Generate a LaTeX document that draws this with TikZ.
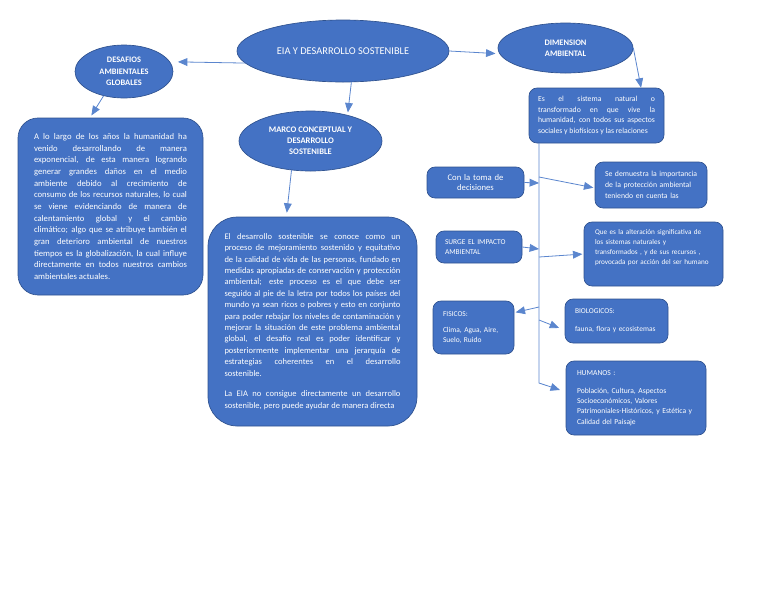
\documentclass[tikz,border=0pt]{standalone}
\usepackage{fontspec}
\setmainfont{Carlito}
\usetikzlibrary{arrows,shapes.geometric}
\hbadness=10000
\hyphenpenalty=10000

\definecolor{boxblue}{RGB}{68,114,196}
\definecolor{edgeblue}{RGB}{47,82,143}
\definecolor{linkblue}{RGB}{91,134,206}

\tikzset{
  oval/.style={ellipse, draw=edgeblue, line width=0.5pt, fill=boxblue, text=white, inner sep=0pt, align=center},
  card/.style={rectangle, draw=edgeblue, line width=0.5pt, fill=boxblue, text=white, inner sep=0pt, rounded corners=6pt},
  conn/.style={draw=linkblue, line width=0.6pt, -triangle 45},
}

\begin{document}
\begin{tikzpicture}[x=0.75pt,y=0.75pt,yscale=-1,xscale=1]
\useasboundingbox (0,0) rectangle (768,594);

%Shape: Ellipse [main]
\node (eia) at (343,51) [oval, minimum width=159pt, minimum height=46.5pt, font=\fontsize{7.8}{9}\selectfont] {EIA Y DESARROLLO SOSTENIBLE};
%Shape: Ellipse [desafios]
\node (desafios) at (124,71.5) [oval, minimum width=73.5pt, minimum height=39.75pt, font=\bfseries\fontsize{6.3}{8.6}\selectfont] {DESAFIOS\\AMBIENTALES\\GLOBALES};
%Shape: Ellipse [dimension]
\node (dim) at (565.5,48) [oval, minimum width=101.25pt, minimum height=37.5pt, font=\bfseries\fontsize{6.3}{8.3}\selectfont] {DIMENSION\\AMBIENTAL};
%Shape: Ellipse [marco]
\node (marco) at (310.5,141) [oval, minimum width=107.25pt, minimum height=45pt, font=\bfseries\fontsize{6.4}{8.3}\selectfont] {MARCO CONCEPTUAL Y\\DESARROLLO\\SOSTENIBLE};

%Rounded Rect [desafios text]
\node (globaltxt) at (110.5,206.5) [card, rounded corners=15pt, minimum width=138.75pt, minimum height=132.75pt, text width=114.75pt, align=justify, font=\fontsize{6.5}{8.75}\selectfont] {A lo largo de los años la humanidad ha\linebreak
venido desarrollando de manera\linebreak
exponencial, de esta manera logrando\linebreak
generar grandes daños en el medio\linebreak
ambiente debido al crecimiento de\linebreak
consumo de los recursos naturales, lo cual\linebreak
se viene evidenciando de manera de\linebreak
calentamiento global y el cambio\linebreak
climático; algo que se atribuye también el\linebreak
gran deterioro ambiental de nuestros\linebreak
tiempos es la globalización, la cual influye\linebreak
directamente en todos nuestros cambios\linebreak
ambientales actuales.};

%Rounded Rect [marco text]
\node (marcotxt) at (312.5,321.5) [card, rounded corners=22pt, minimum width=156.75pt, minimum height=156.75pt, text width=132pt, align=justify, font=\fontsize{6.4}{8.55}\selectfont] {El desarrollo sostenible se conoce como un\linebreak
proceso de mejoramiento sostenido y equitativo\linebreak
de la calidad de vida de las personas, fundado en\linebreak
medidas apropiadas de conservación y protección\linebreak
ambiental; este proceso es el que debe ser\linebreak
seguido al pie de la letra por todos los países del\linebreak
mundo ya sean ricos o pobres y esto en conjunto\linebreak
para poder rebajar los niveles de contaminación y\linebreak
mejorar la situación de este problema ambiental\linebreak
global, el desafío real es poder identificar y\linebreak
posteriormente implementar una jerarquía de\linebreak
estrategias coherentes en el desarrollo\linebreak
sostenible.\par\vspace{7pt}
La EIA no consigue directamente un desarrollo\linebreak
sostenible, pero puede ayudar de manera directa};

%Rounded Rect [right column]
\node (sistema) at (596.5,115.5) [card, minimum width=101.25pt, minimum height=41.25pt, text width=87.75pt, align=justify, font=\fontsize{5.8}{7.9}\selectfont] {\parfillskip=0pt Es el sistema natural o\linebreak
transformado en que vive la\linebreak
humanidad, con todos sus aspectos\linebreak
sociales y biofísicos y las relaciones};
\node (toma) at (475.5,182.5) [card, minimum width=72.75pt, minimum height=23.25pt, text width=60pt, align=center, font=\fontsize{6.5}{7.8}\selectfont] {Con la toma de\\decisiones};
\node (demuestra) at (651,185) [card, minimum width=84pt, minimum height=34.5pt, text width=69pt, align=left, font=\fontsize{5.8}{8.4}\selectfont] {\hbox{Se demuestra la importancia}\\de la protección ambiental\\teniendo en cuenta las};
\node (surge) at (479,247) [card, minimum width=64.5pt, minimum height=24pt, text width=51pt, align=left, font=\fontsize{5.6}{7.5}\selectfont] {SURGE EL IMPACTO\\AMBIENTAL};
\node (quees) at (653.5,254) [card, minimum width=104.25pt, minimum height=48pt, text width=87.75pt, align=left, font=\fontsize{5.4}{7.5}\selectfont] {Que es la alteración significativa de\\los sistemas naturales y\\transformados , y de sus recursos ,\\provocada por acción del ser humano\par\vspace{9pt}};
\node (fisicos) at (473.5,327.5) [card, minimum width=60.75pt, minimum height=39.75pt, text width=45.75pt, align=left, font=\fontsize{5.6}{7.5}\selectfont] {FISICOS:\\[4pt]Clima, Agua, Aire,\\Suelo, Ruido};
\node (bio) at (616.5,321) [card, minimum width=77.25pt, minimum height=33pt, text width=62.25pt, align=left, font=\fontsize{5.6}{7.5}\selectfont] {BIOLOGICOS:\\[6pt]fauna, flora y ecosistemas};
\node (humanos) at (636,398) [card, minimum width=105pt, minimum height=55.5pt, text width=88.5pt, align=left, font=\fontsize{5.7}{7.8}\selectfont] {HUMANOS :\\[5.5pt]Población, Cultura, Aspectos\\Socioeconómicos, Valores\\Patrimoniales-Históricos, y Estética y\\Calidad del Paisaje};

%Trunk points
\coordinate (tktop) at (539,143);
\coordinate (tkbend) at (539,383);
\coordinate (tk1) at (539,183);
\coordinate (tk2) at (539,177);
\coordinate (tk3) at (539,249);
\coordinate (tk4) at (539,257);
\coordinate (tk5) at (539,307);
\coordinate (tk6) at (539,320);

%Straight Lines
\draw[conn, shorten >=6pt] (eia.187) -- (desafios.12);
\draw[conn, shorten >=3pt] (eia.east) -- (dim.185);
\draw[conn, shorten >=2pt] (eia.285) -- (marco.35);
\draw[conn] (dim.east) -- (sistema.32);
\draw[conn, shorten >=2pt] (desafios.230) -- (globaltxt.103);
\draw[conn, shorten >=3pt] (marco.237) -- (marcotxt.104);
\draw[conn, shorten >=4.5pt] (tktop) -- (tkbend) -- (humanos.175);
\draw[conn] (toma.east) -- (tk1);
\draw[conn, shorten >=1pt] (tk2) -- (demuestra.183);
\draw[conn] (surge.east) -- (tk3);
\draw[conn, shorten >=1pt] (tk4) -- (quees.west);
\draw[conn, shorten >=1pt] (tk5) -- (fisicos.20);
\draw[conn, shorten >=4.5pt] (tk6) -- (bio.190);
\end{tikzpicture}
\end{document}
